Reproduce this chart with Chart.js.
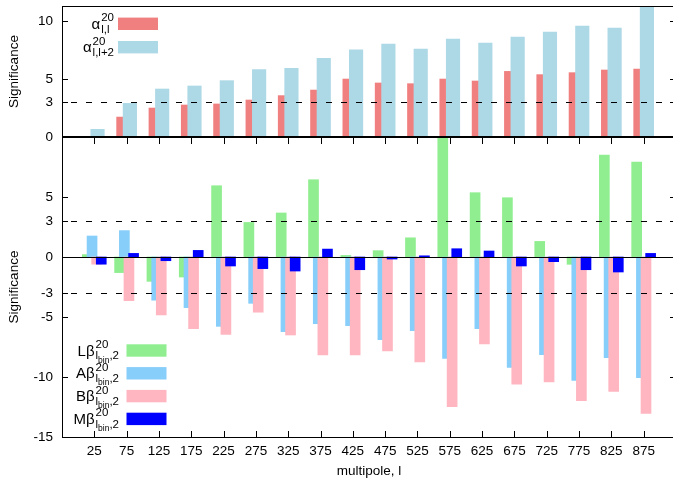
<!DOCTYPE html>
<html>
<head>
<meta charset="utf-8">
<script src="https://cdn.jsdelivr.net/npm/chart.js@4.4.0/dist/chart.umd.min.js"></script>
<style>
  html, body { margin: 0; padding: 0; background: #fff; overflow: hidden; }
  canvas { display: block; }
</style>
</head>
<body>
<canvas id="sigChart" width="676" height="478"></canvas>
<script>
// multipole bins (x axis)
const multipoles = [25, 75, 125, 175, 225, 275, 325, 375, 425, 475, 525, 575, 625, 675, 725, 775, 825, 875];

// upper panel: alpha^20_{l,l} and alpha^20_{l,l+2}
const alphaLL  = [0.05, 1.72, 2.50, 2.76, 2.85, 3.19, 3.57, 4.05, 5.00, 4.66, 4.60, 5.00, 4.83, 5.66, 5.38, 5.55, 5.78, 5.86];
const alphaLL2 = [0.66, 2.90, 4.14, 4.40, 4.86, 5.81, 5.92, 6.78, 7.53, 8.02, 7.59, 8.45, 8.10, 8.62, 9.05, 9.57, 9.40, 11.6];

// lower panel: L, A, B, M beta^20_{lbin,2}
const betaL = [0.20, -1.30, -2.03, -1.67, 5.94, 2.88, 3.67, 6.44, 0.13, 0.53, 1.60, 9.90, 5.36, 4.94, 1.30, -0.61, 8.50, 7.92];
const betaA = [1.75, 2.20, -3.60, -4.22, -5.78, -3.86, -6.22, -5.56, -5.72, -6.89, -6.14, -8.45, -5.97, -9.20, -8.14, -10.28, -8.39, -10.06];
const betaB = [-0.60, -3.64, -4.83, -5.97, -6.45, -4.60, -6.50, -8.17, -8.17, -7.83, -8.75, -12.47, -7.25, -10.60, -10.40, -11.97, -11.20, -13.03];
const betaM = [-0.60, 0.30, -0.31, 0.55, -0.75, -0.97, -1.17, 0.66, -1.06, -0.17, 0.10, 0.69, 0.50, -0.75, -0.39, -1.06, -1.25, 0.30];

// tick labels and 3-sigma reference lines
const topTicks = [0, 3, 5, 10];
const bottomTicks = [-15, -10, -5, -3, 0, 3, 5];
const topLines = [3];
const bottomLines = [3, -3];

const FONT = '"Liberation Sans", Arial, Helvetica, sans-serif';
const xMin = -25, xMax = 925, step = 50;

const yFit = s => { s.width = 62; s.paddingTop = 0; s.paddingBottom = 0; };

const scales = {
  x: {
    type: 'linear', min: xMin, max: xMax, offset: false,
    grid: { display: false, drawTicks: false }, border: { display: false },
    afterBuildTicks: s => { s.ticks = multipoles.map(v => ({ value: v })); },
    afterFit: s => { s.height = 41; s.paddingLeft = 0; s.paddingRight = 0; },
    ticks: { autoSkip: false, maxRotation: 0, padding: 6, color: '#000', font: { family: FONT, size: 13.5 }, callback: v => String(v) },
    title: { display: true, text: 'multipole, l', color: '#000', font: { family: FONT, size: 13.5, lineHeight: 1 }, padding: { top: 0, bottom: 0 } }
  },
  yTop: {
    type: 'linear', position: 'left', stack: 'panels', stackWeight: 131, weight: 1,
    min: 0, max: 11.3,
    grid: { display: false, drawTicks: false }, border: { display: false },
    afterBuildTicks: s => { s.ticks = topTicks.map(v => ({ value: v })); },
    afterFit: yFit,
    ticks: { autoSkip: false, padding: 9, color: '#000', font: { family: FONT, size: 13.5 }, callback: v => String(v) },
    title: { display: true, text: 'Significance', color: '#000', font: { family: FONT, size: 13.5 }, padding: { top: 6, bottom: 0 } }
  },
  yBot: {
    type: 'linear', position: 'left', stack: 'panels', stackWeight: 300, weight: 0,
    min: -15, max: 10,
    grid: { display: false, drawTicks: false }, border: { display: false },
    afterBuildTicks: s => { s.ticks = bottomTicks.map(v => ({ value: v })); },
    afterFit: yFit,
    ticks: { autoSkip: false, padding: 9, color: '#000', font: { family: FONT, size: 13.5 }, callback: v => String(v) },
    title: { display: true, text: 'Significance', color: '#000', font: { family: FONT, size: 13.5 }, padding: { top: 6, bottom: 0 } }
  }
};

// each series sits on its own hidden x axis, slid by a fraction of a bin
function series(id, values, color, yAxis, shift, width, order) {
  scales['x_' + id] = {
    type: 'linear', display: false, offset: false,
    min: xMin - shift * step, max: xMax - shift * step
  };
  return {
    label: id,
    data: multipoles.map((l, i) => ({ x: l, y: values[i] })),
    backgroundColor: color,
    borderWidth: 0,
    xAxisID: 'x_' + id,
    yAxisID: yAxis,
    grouped: false,
    barThickness: width,
    order: order
  };
}

const datasets = [
  series('all', alphaLL, '#f08080', 'yTop', -0.209, 6.5, 6),
  series('all2', alphaLL2, '#add8e6', 'yTop', 0.10, 13.5, 5),
  series('L', betaL, '#90ee90', 'yBot', -0.217, 10, 4),
  series('A', betaA, '#87cefa', 'yBot', -0.070, 10, 3),
  series('B', betaB, '#ffb6c1', 'yBot', 0.072, 10, 2),
  series('M', betaM, '#0000ff', 'yBot', 0.215, 10, 1)
];

const legendTop = [
  { base: 'α', sup: '20', sub: [['l,l', 0]], color: '#f08080' },
  { base: 'α', sup: '20', sub: [['l,l+2', 0]], color: '#add8e6' }
];
const legendBottom = [
  { base: 'Lβ', sup: '20', sub: [['l', 0], ['bin', 1], [',2', 0]], color: '#90ee90' },
  { base: 'Aβ', sup: '20', sub: [['l', 0], ['bin', 1], [',2', 0]], color: '#87cefa' },
  { base: 'Bβ', sup: '20', sub: [['l', 0], ['bin', 1], [',2', 0]], color: '#ffb6c1' },
  { base: 'Mβ', sup: '20', sub: [['l', 0], ['bin', 1], [',2', 0]], color: '#0000ff' }
];

const f = size => size + 'px ' + FONT;

function richText(ctx, item, right, cy) {
  ctx.font = f(15); const bw = ctx.measureText(item.base).width;
  ctx.font = f(11.5); const sw = ctx.measureText(item.sup).width;
  let subW = 0;
  item.sub.forEach(([t, lvl]) => { ctx.font = f(lvl ? 8.5 : 11.5); subW += ctx.measureText(t).width; });
  const x0 = right - bw - 1 - Math.max(sw, subW);
  ctx.fillStyle = '#000';
  ctx.textAlign = 'left';
  ctx.textBaseline = 'alphabetic';
  ctx.font = f(15);
  ctx.fillText(item.base, x0, cy + 5);
  ctx.font = f(11.5);
  ctx.fillText(item.sup, x0 + bw + 1, cy - 2.5);
  let x = x0 + bw + 1;
  item.sub.forEach(([t, lvl]) => {
    ctx.font = f(lvl ? 8.5 : 11.5);
    ctx.fillText(t, x, cy + (lvl ? 12 : 8.8));
    x += ctx.measureText(t).width;
  });
}

const legendPlugin = {
  id: 'richLegend',
  afterDraw(chart) {
    const { ctx, chartArea: a, scales: s } = chart;
    ctx.save();
    legendTop.forEach((item, i) => {
      const cy = s.yTop.top + 17.8 + i * 23.4;
      richText(ctx, item, a.left + 52, cy);
      ctx.fillStyle = item.color;
      ctx.fillRect(a.left + 56, cy - 6.2, 40, 12.4);
    });
    legendBottom.forEach((item, i) => {
      const cy = s.yBot.bottom - 86.5 + i * 22.8;
      richText(ctx, item, a.left + 57, cy);
      ctx.fillStyle = item.color;
      ctx.fillRect(a.left + 64.5, cy - 6.2, 40, 12.4);
    });
    ctx.restore();
  }
};

const framePlugin = {
  id: 'frame',
  afterDatasetsDraw(chart) {
    const { ctx, chartArea: a, scales: s } = chart;
    const L = a.left, R = a.right;
    const px = v => Math.round(v) + 0.5;
    const line = (x1, y1, x2, y2) => { ctx.beginPath(); ctx.moveTo(x1, y1); ctx.lineTo(x2, y2); ctx.stroke(); };
    ctx.save();
    ctx.strokeStyle = '#000';
    ctx.lineWidth = 1;

    // dashed significance levels
    ctx.setLineDash([6, 9]);
    ctx.lineDashOffset = 6;
    topLines.forEach(v => { const y = px(s.yTop.getPixelForValue(v)); line(L, y, R, y); });
    bottomLines.forEach(v => { const y = px(s.yBot.getPixelForValue(v)); line(L, y, R, y); });
    ctx.setLineDash([]);

    // zero line of lower panel
    const y0 = px(s.yBot.getPixelForValue(0));
    line(L, y0, R, y0);

    // inward tick marks
    [[s.yTop, topTicks], [s.yBot, bottomTicks]].forEach(([sc, vals]) => vals.forEach(v => {
      const y = px(sc.getPixelForValue(v));
      line(L, y, L + 6, y);
      line(R - 6, y, R, y);
    }));
    multipoles.forEach(v => {
      const x = px(s.x.getPixelForValue(v));
      line(x, a.bottom, x, a.bottom - 6);
      line(x, s.yBot.top, x, s.yBot.top + 7);
    });

    // frame
    line(px(L), a.top, px(L), a.bottom);
    line(px(R) - 1, a.top, px(R) - 1, a.bottom);
    line(L, px(a.top), R, px(a.top));
    line(L, px(a.bottom), R, px(a.bottom));
    ctx.lineWidth = 2;
    line(L, Math.round(s.yTop.bottom), R, Math.round(s.yTop.bottom));
    ctx.restore();
  }
};

new Chart(document.getElementById('sigChart').getContext('2d'), {
  type: 'bar',
  data: { datasets: datasets },
  options: {
    responsive: false,
    animation: false,
    layout: { padding: { top: 6, right: 0, bottom: 0, left: 0 } },
    scales: scales,
    plugins: {
      legend: { display: false },
      tooltip: { enabled: false }
    }
  },
  plugins: [framePlugin, legendPlugin]
});
</script>
</body>
</html>
